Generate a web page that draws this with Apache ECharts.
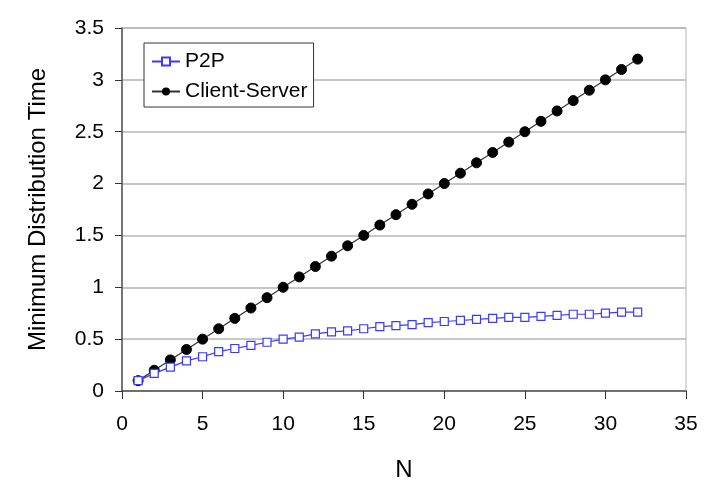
<!DOCTYPE html>
<html>
<head>
<meta charset="utf-8">
<script src="https://cdn.jsdelivr.net/npm/echarts@6/dist/echarts.min.js"></script>
<style>
  body { margin: 0; background: #fff; }
  #chart { width: 717px; height: 495px; }
</style>
</head>
<body>
<div id="chart"></div>
<script>
// values
var nValues = [1, 2, 3, 4, 5, 6, 7, 8, 9, 10, 11, 12, 13, 14, 15, 16,
  17, 18, 19, 20, 21, 22, 23, 24, 25, 26, 27, 28, 29, 30, 31, 32];
var p2p = [0.1, 0.17, 0.23, 0.29, 0.33, 0.38, 0.41, 0.44, 0.47, 0.5, 0.52, 0.55,
  0.57, 0.58, 0.6, 0.62, 0.63, 0.64, 0.66, 0.67, 0.68, 0.69, 0.7, 0.71,
  0.71, 0.72, 0.73, 0.74, 0.74, 0.75, 0.76, 0.76];
var clientServer = [0.1, 0.2, 0.3, 0.4, 0.5, 0.6, 0.7, 0.8, 0.9, 1.0, 1.1, 1.2,
  1.3, 1.4, 1.5, 1.6, 1.7, 1.8, 1.9, 2.0, 2.1, 2.2, 2.3, 2.4,
  2.5, 2.6, 2.7, 2.8, 2.9, 3.0, 3.1, 3.2];

function pairs(ys) {
  return nValues.map(function (n, i) { return [n, ys[i]]; });
}

var myChart = echarts.init(document.getElementById("chart"));
var font = "Liberation Sans, Arial, sans-serif";

var option = {
  animation: false,
  textStyle: { fontFamily: font },
  grid: {
    left: 122,
    top: 28,
    right: 31,
    bottom: 104,
    show: true,
    borderColor: "#b4b4b4",
    borderWidth: 1
  },
  legend: {
    left: 144,
    top: 43,
    orient: "vertical",
    backgroundColor: "#fff",
    borderColor: "#333",
    borderWidth: 1,
    padding: [8, 6, 5, 7],
    itemGap: 9,
    itemWidth: 28,
    itemHeight: 10,
    textStyle: { fontSize: 21, color: "#000", fontFamily: font },
    data: ["P2P", "Client-Server"]
  },
  xAxis: {
    type: "value",
    min: 0,
    max: 35,
    interval: 5,
    name: "N",
    nameLocation: "middle",
    nameGap: 67,
    nameTextStyle: { fontSize: 24, color: "#000" },
    axisLine: { lineStyle: { color: "#555", width: 1.5 } },
    axisTick: { show: true, length: 8, lineStyle: { color: "#333" } },
    axisLabel: { fontSize: 21, color: "#000", margin: 23 },
    splitLine: { show: false }
  },
  yAxis: {
    type: "value",
    min: 0,
    max: 3.5,
    interval: 0.5,
    name: "Minimum Distribution Time",
    nameLocation: "middle",
    nameGap: 72,
    nameTextStyle: { fontSize: 24, color: "#000" },
    axisLine: { show: true, lineStyle: { color: "#555", width: 1.5 } },
    axisTick: { show: true, length: 7, lineStyle: { color: "#333" } },
    axisLabel: { fontSize: 21, color: "#000", margin: 18 },
    splitLine: { lineStyle: { color: "#b4b4b4", width: 1.5 } }
  },
  series: [
    {
      name: "P2P",
      type: "line",
      data: pairs(p2p),
      symbol: "rect",
      symbolSize: 8,
      itemStyle: { color: "#fff", borderColor: "#3a3aff", borderWidth: 1.2 },
      lineStyle: { color: "#3a3aff", width: 1.2 },
      z: 3
    },
    {
      name: "Client-Server",
      type: "line",
      data: pairs(clientServer),
      symbol: "circle",
      symbolSize: 10,
      itemStyle: { color: "#000", borderColor: "#000" },
      lineStyle: { color: "#333", width: 1.2 },
      z: 2
    }
  ]
};
myChart.setOption(option);
</script>
</body>
</html>
